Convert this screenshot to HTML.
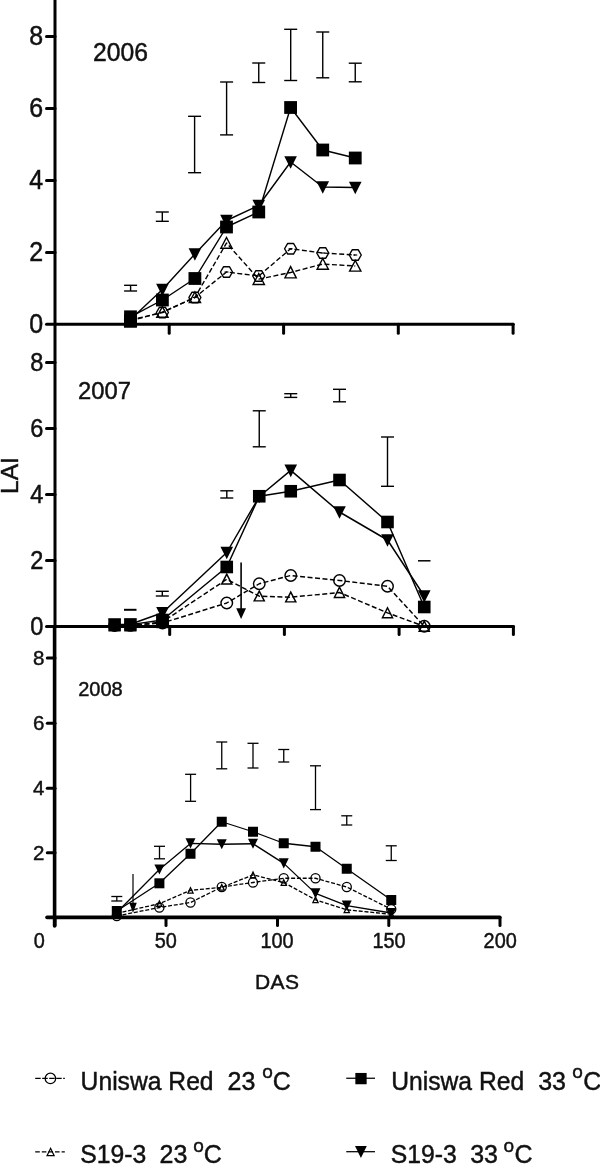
<!DOCTYPE html>
<html><head><meta charset="utf-8"><title>LAI vs DAS</title>
<style>html,body{margin:0;padding:0;background:#fff;}svg{display:block;}text{font-family:'Liberation Sans', Arial, Helvetica, sans-serif;fill:#111;stroke:#111;stroke-width:0.45px;}</style>
</head><body>
<svg width="600" height="1164" viewBox="0 0 600 1164">
<rect width="600" height="1164" fill="#fff"/>
<line x1="55" y1="0" x2="55" y2="627" stroke="#000" stroke-width="3.0" stroke-linecap="butt"/>
<line x1="54.6" y1="627" x2="54.6" y2="926" stroke="#000" stroke-width="3.6" stroke-linecap="round"/>
<line x1="46.5" y1="324.3" x2="513.2" y2="324.3" stroke="#000" stroke-width="3.0" stroke-linecap="round"/>
<line x1="46.5" y1="36.4" x2="55" y2="36.4" stroke="#000" stroke-width="3.0" stroke-linecap="round"/>
<line x1="46.5" y1="108.5" x2="55" y2="108.5" stroke="#000" stroke-width="3.0" stroke-linecap="round"/>
<line x1="46.5" y1="180.6" x2="55" y2="180.6" stroke="#000" stroke-width="3.0" stroke-linecap="round"/>
<line x1="46.5" y1="252.6" x2="55" y2="252.6" stroke="#000" stroke-width="3.0" stroke-linecap="round"/>
<text transform="translate(43.2,45.2) scale(1.0,1.1)" font-size="25" text-anchor="end" >8</text>
<text transform="translate(43.2,117.3) scale(1.0,1.1)" font-size="25" text-anchor="end" >6</text>
<text transform="translate(43.2,189.4) scale(1.0,1.1)" font-size="25" text-anchor="end" >4</text>
<text transform="translate(43.2,261.4) scale(1.0,1.1)" font-size="25" text-anchor="end" >2</text>
<text transform="translate(43.2,333.1) scale(1.0,1.1)" font-size="25" text-anchor="end" >0</text>
<line x1="169.2" y1="324.3" x2="169.2" y2="333.2" stroke="#000" stroke-width="3.0" stroke-linecap="round"/>
<line x1="283.6" y1="324.3" x2="283.6" y2="333.2" stroke="#000" stroke-width="3.0" stroke-linecap="round"/>
<line x1="398.3" y1="324.3" x2="398.3" y2="333.2" stroke="#000" stroke-width="3.0" stroke-linecap="round"/>
<line x1="513.1" y1="324.3" x2="513.1" y2="333.2" stroke="#000" stroke-width="3.0" stroke-linecap="round"/>
<text transform="translate(93,61) scale(1,1.04)" font-size="24.7" text-anchor="start" >2006</text>
<polyline points="130.5,320 162.4,312.5 194.9,297.5 226.5,272 258.75,276 290.6,248.75 322.75,253 355.25,255" fill="none" stroke="#000" stroke-width="1.4" stroke-linejoin="round" stroke-dasharray="5 2.5"/>
<polyline points="130.5,320.85 162.4,312.1 194.9,297.40000000000003 226.5,243.04999999999998 258.75,279.15000000000003 290.6,272.45000000000005 322.75,264.05000000000007 355.25,266.0" fill="none" stroke="#000" stroke-width="1.4" stroke-linejoin="round" stroke-dasharray="5 2.5"/>
<polyline points="130.5,316.8 162.4,300 194.9,278.5 226.5,227 258.75,212 290.6,107.5 322.75,150 355.25,158" fill="none" stroke="#000" stroke-width="1.4" stroke-linejoin="round"/>
<polyline points="130.5,319.5 162.4,289.5 194.9,254 226.5,220.5 258.75,205.5 290.6,162 322.75,187 355.25,187.5" fill="none" stroke="#000" stroke-width="1.4" stroke-linejoin="round"/>
<polygon points="124.47,320.00 127.61,314.70 133.39,314.70 136.53,320.00 133.39,325.30 127.61,325.30" fill="none" stroke="#000" stroke-width="1.4" stroke-linejoin="round"/>
<line x1="128.5" y1="320" x2="132.5" y2="320" stroke="#000" stroke-width="1.1199999999999999" stroke-linecap="butt"/>
<polygon points="156.37,312.50 159.51,307.20 165.29,307.20 168.43,312.50 165.29,317.80 159.51,317.80" fill="none" stroke="#000" stroke-width="1.4" stroke-linejoin="round"/>
<line x1="160.4" y1="312.5" x2="164.4" y2="312.5" stroke="#000" stroke-width="1.1199999999999999" stroke-linecap="butt"/>
<polygon points="188.87,297.50 192.01,292.20 197.79,292.20 200.93,297.50 197.79,302.80 192.01,302.80" fill="none" stroke="#000" stroke-width="1.4" stroke-linejoin="round"/>
<line x1="192.9" y1="297.5" x2="196.9" y2="297.5" stroke="#000" stroke-width="1.1199999999999999" stroke-linecap="butt"/>
<polygon points="220.47,272.00 223.61,266.70 229.39,266.70 232.53,272.00 229.39,277.30 223.61,277.30" fill="none" stroke="#000" stroke-width="1.4" stroke-linejoin="round"/>
<line x1="224.5" y1="272" x2="228.5" y2="272" stroke="#000" stroke-width="1.1199999999999999" stroke-linecap="butt"/>
<polygon points="252.72,276.00 255.86,270.70 261.64,270.70 264.78,276.00 261.64,281.30 255.86,281.30" fill="none" stroke="#000" stroke-width="1.4" stroke-linejoin="round"/>
<line x1="256.75" y1="276" x2="260.75" y2="276" stroke="#000" stroke-width="1.1199999999999999" stroke-linecap="butt"/>
<polygon points="284.57,248.75 287.71,243.45 293.49,243.45 296.63,248.75 293.49,254.05 287.71,254.05" fill="none" stroke="#000" stroke-width="1.4" stroke-linejoin="round"/>
<line x1="288.6" y1="248.75" x2="292.6" y2="248.75" stroke="#000" stroke-width="1.1199999999999999" stroke-linecap="butt"/>
<polygon points="316.72,253.00 319.86,247.70 325.64,247.70 328.78,253.00 325.64,258.30 319.86,258.30" fill="none" stroke="#000" stroke-width="1.4" stroke-linejoin="round"/>
<line x1="320.75" y1="253" x2="324.75" y2="253" stroke="#000" stroke-width="1.1199999999999999" stroke-linecap="butt"/>
<polygon points="349.22,255.00 352.36,249.70 358.14,249.70 361.28,255.00 358.14,260.30 352.36,260.30" fill="none" stroke="#000" stroke-width="1.4" stroke-linejoin="round"/>
<line x1="353.25" y1="255" x2="357.25" y2="255" stroke="#000" stroke-width="1.1199999999999999" stroke-linecap="butt"/>
<polygon points="124.84,326.20 136.16,326.20 130.5,315.14" fill="none" stroke="#000" stroke-width="1.4" stroke-linejoin="miter"/>
<polygon points="156.76,317.20 168.04,317.20 162.4,306.59" fill="none" stroke="#000" stroke-width="1.4" stroke-linejoin="miter"/>
<polygon points="189.26,302.50 200.54,302.50 194.9,291.89" fill="none" stroke="#000" stroke-width="1.4" stroke-linejoin="miter"/>
<polygon points="220.85,248.30 232.15,248.30 226.5,237.42" fill="none" stroke="#000" stroke-width="1.4" stroke-linejoin="miter"/>
<polygon points="253.09,284.50 264.41,284.50 258.75,273.44" fill="none" stroke="#000" stroke-width="1.4" stroke-linejoin="miter"/>
<polygon points="284.94,277.90 296.26,277.90 290.6,266.66" fill="none" stroke="#000" stroke-width="1.4" stroke-linejoin="miter"/>
<polygon points="317.10,269.30 328.40,269.30 322.75,258.42" fill="none" stroke="#000" stroke-width="1.4" stroke-linejoin="miter"/>
<polygon points="349.61,271.10 360.89,271.10 355.25,260.49" fill="none" stroke="#000" stroke-width="1.4" stroke-linejoin="miter"/>
<polygon points="124.2,313.7 136.8,313.7 130.5,326.3" fill="#000"/>
<polygon points="156.1,283.7 168.70000000000002,283.7 162.4,296.3" fill="#000"/>
<polygon points="188.6,248.2 201.20000000000002,248.2 194.9,260.8" fill="#000"/>
<polygon points="220.2,214.7 232.8,214.7 226.5,227.3" fill="#000"/>
<polygon points="252.45,199.7 265.05,199.7 258.75,212.3" fill="#000"/>
<polygon points="284.3,156.2 296.90000000000003,156.2 290.6,168.8" fill="#000"/>
<polygon points="316.45,181.2 329.05,181.2 322.75,193.8" fill="#000"/>
<polygon points="348.95,181.7 361.55,181.7 355.25,194.3" fill="#000"/>
<rect x="124.1" y="310.40000000000003" width="12.8" height="12.8" fill="#000"/>
<rect x="156.0" y="293.6" width="12.8" height="12.8" fill="#000"/>
<rect x="188.5" y="272.1" width="12.8" height="12.8" fill="#000"/>
<rect x="220.1" y="220.6" width="12.8" height="12.8" fill="#000"/>
<rect x="252.35" y="205.6" width="12.8" height="12.8" fill="#000"/>
<rect x="284.20000000000005" y="101.1" width="12.8" height="12.8" fill="#000"/>
<rect x="316.35" y="143.6" width="12.8" height="12.8" fill="#000"/>
<rect x="348.85" y="151.6" width="12.8" height="12.8" fill="#000"/>
<rect x="123.99999999999999" y="314.85" width="12.9" height="12.9" fill="#000"/>
<line x1="130.6" y1="285.3" x2="130.6" y2="291" stroke="#000" stroke-width="1.4" stroke-linecap="butt"/>
<line x1="124.1" y1="285.3" x2="137.1" y2="285.3" stroke="#000" stroke-width="1.4" stroke-linecap="butt"/>
<line x1="124.1" y1="291" x2="137.1" y2="291" stroke="#000" stroke-width="1.4" stroke-linecap="butt"/>
<line x1="162.3" y1="212" x2="162.3" y2="221.3" stroke="#000" stroke-width="1.4" stroke-linecap="butt"/>
<line x1="155.8" y1="212" x2="168.8" y2="212" stroke="#000" stroke-width="1.4" stroke-linecap="butt"/>
<line x1="155.8" y1="221.3" x2="168.8" y2="221.3" stroke="#000" stroke-width="1.4" stroke-linecap="butt"/>
<line x1="194.6" y1="116.3" x2="194.6" y2="172.7" stroke="#000" stroke-width="1.4" stroke-linecap="butt"/>
<line x1="188.1" y1="116.3" x2="201.1" y2="116.3" stroke="#000" stroke-width="1.4" stroke-linecap="butt"/>
<line x1="188.1" y1="172.7" x2="201.1" y2="172.7" stroke="#000" stroke-width="1.4" stroke-linecap="butt"/>
<line x1="226.6" y1="82" x2="226.6" y2="134.9" stroke="#000" stroke-width="1.4" stroke-linecap="butt"/>
<line x1="220.1" y1="82" x2="233.1" y2="82" stroke="#000" stroke-width="1.4" stroke-linecap="butt"/>
<line x1="220.1" y1="134.9" x2="233.1" y2="134.9" stroke="#000" stroke-width="1.4" stroke-linecap="butt"/>
<line x1="258.75" y1="63" x2="258.75" y2="82.5" stroke="#000" stroke-width="1.4" stroke-linecap="butt"/>
<line x1="252.25" y1="63" x2="265.25" y2="63" stroke="#000" stroke-width="1.4" stroke-linecap="butt"/>
<line x1="252.25" y1="82.5" x2="265.25" y2="82.5" stroke="#000" stroke-width="1.4" stroke-linecap="butt"/>
<line x1="290.7" y1="29.3" x2="290.7" y2="80.5" stroke="#000" stroke-width="1.4" stroke-linecap="butt"/>
<line x1="284.2" y1="29.3" x2="297.2" y2="29.3" stroke="#000" stroke-width="1.4" stroke-linecap="butt"/>
<line x1="284.2" y1="80.5" x2="297.2" y2="80.5" stroke="#000" stroke-width="1.4" stroke-linecap="butt"/>
<line x1="322.75" y1="32" x2="322.75" y2="77.8" stroke="#000" stroke-width="1.4" stroke-linecap="butt"/>
<line x1="316.25" y1="32" x2="329.25" y2="32" stroke="#000" stroke-width="1.4" stroke-linecap="butt"/>
<line x1="316.25" y1="77.8" x2="329.25" y2="77.8" stroke="#000" stroke-width="1.4" stroke-linecap="butt"/>
<line x1="355.25" y1="63.2" x2="355.25" y2="81.8" stroke="#000" stroke-width="1.4" stroke-linecap="butt"/>
<line x1="348.75" y1="63.2" x2="361.75" y2="63.2" stroke="#000" stroke-width="1.4" stroke-linecap="butt"/>
<line x1="348.75" y1="81.8" x2="361.75" y2="81.8" stroke="#000" stroke-width="1.4" stroke-linecap="butt"/>
<line x1="46.5" y1="626.5" x2="513.5" y2="626.5" stroke="#000" stroke-width="3.0" stroke-linecap="round"/>
<line x1="46.5" y1="362.4" x2="55" y2="362.4" stroke="#000" stroke-width="3.0" stroke-linecap="round"/>
<line x1="46.5" y1="428.4" x2="55" y2="428.4" stroke="#000" stroke-width="3.0" stroke-linecap="round"/>
<line x1="46.5" y1="494.4" x2="55" y2="494.4" stroke="#000" stroke-width="3.0" stroke-linecap="round"/>
<line x1="46.5" y1="560.4" x2="55" y2="560.4" stroke="#000" stroke-width="3.0" stroke-linecap="round"/>
<text transform="translate(43.4,370.9) scale(1.0,1.1)" font-size="23.6" text-anchor="end" >8</text>
<text transform="translate(43.4,436.9) scale(1.0,1.1)" font-size="23.6" text-anchor="end" >6</text>
<text transform="translate(43.4,502.9) scale(1.0,1.1)" font-size="23.6" text-anchor="end" >4</text>
<text transform="translate(43.4,568.9) scale(1.0,1.1)" font-size="23.6" text-anchor="end" >2</text>
<text transform="translate(43.4,635.0) scale(1.0,1.1)" font-size="23.6" text-anchor="end" >0</text>
<line x1="169.7" y1="626.5" x2="169.7" y2="634.5" stroke="#000" stroke-width="3.0" stroke-linecap="round"/>
<line x1="284.4" y1="626.5" x2="284.4" y2="634.5" stroke="#000" stroke-width="3.0" stroke-linecap="round"/>
<line x1="399.1" y1="626.5" x2="399.1" y2="634.5" stroke="#000" stroke-width="3.0" stroke-linecap="round"/>
<line x1="513.4" y1="626.5" x2="513.4" y2="634.5" stroke="#000" stroke-width="3.0" stroke-linecap="round"/>
<text x="78" y="398.6" font-size="23.8" text-anchor="start" >2007</text>
<polyline points="114.6,625.5 130.4,625.3 162.5,623 226.75,603 259.25,583.75 290.75,575.5 339.5,580.5 387.5,586.25 424.25,626.25" fill="none" stroke="#000" stroke-width="1.45" stroke-linejoin="round" stroke-dasharray="5 2.5"/>
<polyline points="114.6,625.85 130.4,625.85 162.5,621.85 226.75,579.3000000000001 259.25,596.2 290.75,597.2 339.5,592.5 387.5,612.9 424.25,626.35" fill="none" stroke="#000" stroke-width="1.45" stroke-linejoin="round" stroke-dasharray="5 2.5"/>
<polyline points="114.6,624.6 130.4,624.6 162.5,620 226.75,567 259.25,496.25 290.75,491.25 339.5,480 387.5,522 424.25,607" fill="none" stroke="#000" stroke-width="1.45" stroke-linejoin="round"/>
<polyline points="114.6,624.6 130.4,624.3 162.5,612.75 226.75,552.5 259.25,496.5 290.75,470.4 339.5,512 387.5,540 424.25,596" fill="none" stroke="#000" stroke-width="1.45" stroke-linejoin="round"/>
<circle cx="114.6" cy="625.5" r="5.75" fill="none" stroke="#000" stroke-width="1.45"/>
<circle cx="130.4" cy="625.3" r="5.75" fill="none" stroke="#000" stroke-width="1.45"/>
<circle cx="162.5" cy="623" r="5.75" fill="none" stroke="#000" stroke-width="1.45"/>
<circle cx="226.75" cy="603" r="5.75" fill="none" stroke="#000" stroke-width="1.45"/>
<circle cx="259.25" cy="583.75" r="5.75" fill="none" stroke="#000" stroke-width="1.45"/>
<circle cx="290.75" cy="575.5" r="5.75" fill="none" stroke="#000" stroke-width="1.45"/>
<circle cx="339.5" cy="580.5" r="5.75" fill="none" stroke="#000" stroke-width="1.45"/>
<circle cx="387.5" cy="586.25" r="5.75" fill="none" stroke="#000" stroke-width="1.45"/>
<circle cx="424.25" cy="626.25" r="5.75" fill="none" stroke="#000" stroke-width="1.45"/>
<polygon points="109.53,630.67 119.67,630.67 114.6,620.70" fill="none" stroke="#000" stroke-width="1.45" stroke-linejoin="miter"/>
<polygon points="125.33,630.67 135.47,630.67 130.4,620.70" fill="none" stroke="#000" stroke-width="1.45" stroke-linejoin="miter"/>
<polygon points="157.43,626.67 167.57,626.67 162.5,616.70" fill="none" stroke="#000" stroke-width="1.45" stroke-linejoin="miter"/>
<polygon points="221.69,584.07 231.81,584.07 226.75,574.19" fill="none" stroke="#000" stroke-width="1.45" stroke-linejoin="miter"/>
<polygon points="254.20,600.88 264.30,600.88 259.25,591.17" fill="none" stroke="#000" stroke-width="1.45" stroke-linejoin="miter"/>
<polygon points="285.70,601.88 295.80,601.88 290.75,592.17" fill="none" stroke="#000" stroke-width="1.45" stroke-linejoin="miter"/>
<polygon points="334.42,597.47 344.58,597.47 339.5,587.23" fill="none" stroke="#000" stroke-width="1.45" stroke-linejoin="miter"/>
<polygon points="382.44,617.67 392.56,617.67 387.5,607.79" fill="none" stroke="#000" stroke-width="1.45" stroke-linejoin="miter"/>
<polygon points="419.18,631.17 429.32,631.17 424.25,621.20" fill="none" stroke="#000" stroke-width="1.45" stroke-linejoin="miter"/>
<polygon points="108.3,618.8000000000001 120.89999999999999,618.8000000000001 114.6,631.4" fill="#000"/>
<polygon points="124.10000000000001,618.5 136.70000000000002,618.5 130.4,631.0999999999999" fill="#000"/>
<polygon points="156.2,606.95 168.8,606.95 162.5,619.55" fill="#000"/>
<polygon points="220.45,546.7 233.05,546.7 226.75,559.3" fill="#000"/>
<polygon points="252.95,490.7 265.55,490.7 259.25,503.3" fill="#000"/>
<polygon points="284.45,464.59999999999997 297.05,464.59999999999997 290.75,477.2" fill="#000"/>
<polygon points="333.2,506.2 345.8,506.2 339.5,518.8" fill="#000"/>
<polygon points="381.2,534.2 393.8,534.2 387.5,546.8" fill="#000"/>
<polygon points="417.95,590.2 430.55,590.2 424.25,602.8" fill="#000"/>
<rect x="108.3" y="618.3000000000001" width="12.6" height="12.6" fill="#000"/>
<rect x="124.10000000000001" y="618.3000000000001" width="12.6" height="12.6" fill="#000"/>
<rect x="156.2" y="613.7" width="12.6" height="12.6" fill="#000"/>
<rect x="220.45" y="560.7" width="12.6" height="12.6" fill="#000"/>
<rect x="252.95" y="489.95" width="12.6" height="12.6" fill="#000"/>
<rect x="284.45" y="484.95" width="12.6" height="12.6" fill="#000"/>
<rect x="333.2" y="473.7" width="12.6" height="12.6" fill="#000"/>
<rect x="381.2" y="515.7" width="12.6" height="12.6" fill="#000"/>
<rect x="417.95" y="600.7" width="12.6" height="12.6" fill="#000"/>
<rect x="156.3" y="615.8" width="12.4" height="12.4" fill="#000"/>
<line x1="162.3" y1="591.3" x2="162.3" y2="596" stroke="#000" stroke-width="1.4" stroke-linecap="butt"/>
<line x1="155.8" y1="591.3" x2="168.8" y2="591.3" stroke="#000" stroke-width="1.4" stroke-linecap="butt"/>
<line x1="155.8" y1="596" x2="168.8" y2="596" stroke="#000" stroke-width="1.4" stroke-linecap="butt"/>
<line x1="226.8" y1="490.8" x2="226.8" y2="498" stroke="#000" stroke-width="1.4" stroke-linecap="butt"/>
<line x1="220.3" y1="490.8" x2="233.3" y2="490.8" stroke="#000" stroke-width="1.4" stroke-linecap="butt"/>
<line x1="220.3" y1="498" x2="233.3" y2="498" stroke="#000" stroke-width="1.4" stroke-linecap="butt"/>
<line x1="259.25" y1="410.8" x2="259.25" y2="446.8" stroke="#000" stroke-width="1.4" stroke-linecap="butt"/>
<line x1="252.75" y1="410.8" x2="265.75" y2="410.8" stroke="#000" stroke-width="1.4" stroke-linecap="butt"/>
<line x1="252.75" y1="446.8" x2="265.75" y2="446.8" stroke="#000" stroke-width="1.4" stroke-linecap="butt"/>
<line x1="290.75" y1="393.7" x2="290.75" y2="397.4" stroke="#000" stroke-width="1.4" stroke-linecap="butt"/>
<line x1="284.25" y1="393.7" x2="297.25" y2="393.7" stroke="#000" stroke-width="1.4" stroke-linecap="butt"/>
<line x1="284.25" y1="397.4" x2="297.25" y2="397.4" stroke="#000" stroke-width="1.4" stroke-linecap="butt"/>
<line x1="339.5" y1="389.3" x2="339.5" y2="401.8" stroke="#000" stroke-width="1.4" stroke-linecap="butt"/>
<line x1="333.0" y1="389.3" x2="346.0" y2="389.3" stroke="#000" stroke-width="1.4" stroke-linecap="butt"/>
<line x1="333.0" y1="401.8" x2="346.0" y2="401.8" stroke="#000" stroke-width="1.4" stroke-linecap="butt"/>
<line x1="387.5" y1="437" x2="387.5" y2="486.3" stroke="#000" stroke-width="1.4" stroke-linecap="butt"/>
<line x1="381.0" y1="437" x2="394.0" y2="437" stroke="#000" stroke-width="1.4" stroke-linecap="butt"/>
<line x1="381.0" y1="486.3" x2="394.0" y2="486.3" stroke="#000" stroke-width="1.4" stroke-linecap="butt"/>
<line x1="124" y1="609.8" x2="136.5" y2="609.8" stroke="#000" stroke-width="2" stroke-linecap="butt"/>
<line x1="418" y1="560.8" x2="430.5" y2="560.8" stroke="#000" stroke-width="1.5" stroke-linecap="butt"/>
<line x1="241.1" y1="562.5" x2="241.1" y2="611" stroke="#000" stroke-width="1.6" stroke-linecap="butt"/>
<polygon points="236.2,608.2 246.0,608.2 241.1,619.0" fill="#000"/>
<line x1="47" y1="917.4" x2="499.8" y2="917.4" stroke="#000" stroke-width="3.6" stroke-linecap="round"/>
<line x1="47.3" y1="658" x2="55" y2="658" stroke="#000" stroke-width="3.0" stroke-linecap="round"/>
<line x1="47.3" y1="723.2" x2="55" y2="723.2" stroke="#000" stroke-width="3.0" stroke-linecap="round"/>
<line x1="47.3" y1="788.2" x2="55" y2="788.2" stroke="#000" stroke-width="3.0" stroke-linecap="round"/>
<line x1="47.3" y1="852.8" x2="55" y2="852.8" stroke="#000" stroke-width="3.0" stroke-linecap="round"/>
<text x="44.5" y="665.2" font-size="20.5" text-anchor="end" >8</text>
<text x="44.5" y="730.4000000000001" font-size="20.5" text-anchor="end" >6</text>
<text x="44.5" y="795.4000000000001" font-size="20.5" text-anchor="end" >4</text>
<text x="44.5" y="860.0" font-size="20.5" text-anchor="end" >2</text>
<line x1="55" y1="917.4" x2="55" y2="925.5" stroke="#000" stroke-width="3.0" stroke-linecap="round"/>
<line x1="166" y1="917.4" x2="166" y2="925.5" stroke="#000" stroke-width="3.0" stroke-linecap="round"/>
<line x1="277.5" y1="917.4" x2="277.5" y2="925.5" stroke="#000" stroke-width="3.0" stroke-linecap="round"/>
<line x1="388.8" y1="917.4" x2="388.8" y2="925.5" stroke="#000" stroke-width="3.0" stroke-linecap="round"/>
<line x1="500" y1="917.4" x2="500" y2="925.5" stroke="#000" stroke-width="3.0" stroke-linecap="round"/>
<text transform="translate(39.3,948) scale(0.97,1.05)" font-size="20.5" text-anchor="middle" >0</text>
<text transform="translate(165.7,948) scale(0.97,1.05)" font-size="20.5" text-anchor="middle" >50</text>
<text transform="translate(277,948) scale(0.97,1.05)" font-size="20.5" text-anchor="middle" >100</text>
<text transform="translate(389,948) scale(0.97,1.05)" font-size="20.5" text-anchor="middle" >150</text>
<text transform="translate(500.2,948) scale(0.97,1.05)" font-size="20.5" text-anchor="middle" >200</text>
<text x="78.2" y="696" font-size="20" text-anchor="start" >2008</text>
<text x="255" y="988.6" font-size="21" text-anchor="start" letter-spacing="0.4">DAS</text>
<polyline points="116.8,916 159.4,907.5 190.5,902.5 221.75,887 253,882.5 283.75,878.25 315.5,878.25 346.75,887 391.25,909.25" fill="none" stroke="#000" stroke-width="1.3" stroke-linejoin="round" stroke-dasharray="4 1.8"/>
<polyline points="116.8,913.4 159.4,903.65 190.5,890.35 221.75,887.35 253,874.9 283.75,882.5 315.5,899.8 346.75,909.8 391.25,914.3" fill="none" stroke="#000" stroke-width="1.3" stroke-linejoin="round" stroke-dasharray="4 1.8"/>
<polyline points="116.8,911 159.4,883.3 190.5,853.75 221.75,821.75 253,831.75 283.75,843.25 315.5,846.75 346.75,868.75 391.25,900" fill="none" stroke="#000" stroke-width="1.3" stroke-linejoin="round"/>
<polyline points="116.8,912.5 159.4,869.5 190.5,843.4 221.75,844.25 253,843.75 283.75,863.4 315.5,893.4 346.75,905.6 391.25,913" fill="none" stroke="#000" stroke-width="1.3" stroke-linejoin="round"/>
<circle cx="116.8" cy="916" r="4.55" fill="none" stroke="#000" stroke-width="1.3"/>
<circle cx="159.4" cy="907.5" r="4.55" fill="none" stroke="#000" stroke-width="1.3"/>
<circle cx="190.5" cy="902.5" r="4.55" fill="none" stroke="#000" stroke-width="1.3"/>
<circle cx="221.75" cy="887" r="4.55" fill="none" stroke="#000" stroke-width="1.3"/>
<circle cx="253" cy="882.5" r="4.55" fill="none" stroke="#000" stroke-width="1.3"/>
<circle cx="283.75" cy="878.25" r="4.55" fill="none" stroke="#000" stroke-width="1.3"/>
<circle cx="315.5" cy="878.25" r="4.55" fill="none" stroke="#000" stroke-width="1.3"/>
<circle cx="346.75" cy="887" r="4.55" fill="none" stroke="#000" stroke-width="1.3"/>
<circle cx="391.25" cy="909.25" r="4.55" fill="none" stroke="#000" stroke-width="1.3"/>
<polygon points="114.22,916.25 119.38,916.25 116.8,910.65" fill="none" stroke="#000" stroke-width="1.3" stroke-linejoin="miter"/>
<polygon points="156.85,906.25 161.95,906.25 159.4,901.07" fill="none" stroke="#000" stroke-width="1.3" stroke-linejoin="miter"/>
<polygon points="187.93,893.05 193.07,893.05 190.5,887.70" fill="none" stroke="#000" stroke-width="1.3" stroke-linejoin="miter"/>
<polygon points="219.17,890.15 224.33,890.15 221.75,884.63" fill="none" stroke="#000" stroke-width="1.3" stroke-linejoin="miter"/>
<polygon points="250.42,877.75 255.58,877.75 253,872.15" fill="none" stroke="#000" stroke-width="1.3" stroke-linejoin="miter"/>
<polygon points="281.17,885.35 286.33,885.35 283.75,879.75" fill="none" stroke="#000" stroke-width="1.3" stroke-linejoin="miter"/>
<polygon points="312.93,902.55 318.07,902.55 315.5,897.12" fill="none" stroke="#000" stroke-width="1.3" stroke-linejoin="miter"/>
<polygon points="344.18,912.55 349.32,912.55 346.75,907.12" fill="none" stroke="#000" stroke-width="1.3" stroke-linejoin="miter"/>
<polygon points="388.68,917.05 393.82,917.05 391.25,911.62" fill="none" stroke="#000" stroke-width="1.3" stroke-linejoin="miter"/>
<polygon points="111.8,907.4 121.8,907.4 116.8,917.6" fill="#000"/>
<polygon points="154.4,864.4 164.4,864.4 159.4,874.6" fill="#000"/>
<polygon points="185.5,838.3 195.5,838.3 190.5,848.5" fill="#000"/>
<polygon points="216.75,839.15 226.75,839.15 221.75,849.35" fill="#000"/>
<polygon points="248.0,838.65 258.0,838.65 253,848.85" fill="#000"/>
<polygon points="278.75,858.3 288.75,858.3 283.75,868.5" fill="#000"/>
<polygon points="310.5,888.3 320.5,888.3 315.5,898.5" fill="#000"/>
<polygon points="341.75,900.5 351.75,900.5 346.75,910.7" fill="#000"/>
<polygon points="386.25,907.9 396.25,907.9 391.25,918.1" fill="#000"/>
<rect x="111.8" y="906.0" width="10" height="10" fill="#000"/>
<rect x="154.4" y="878.3" width="10" height="10" fill="#000"/>
<rect x="185.5" y="848.75" width="10" height="10" fill="#000"/>
<rect x="216.75" y="816.75" width="10" height="10" fill="#000"/>
<rect x="248.0" y="826.75" width="10" height="10" fill="#000"/>
<rect x="278.75" y="838.25" width="10" height="10" fill="#000"/>
<rect x="310.5" y="841.75" width="10" height="10" fill="#000"/>
<rect x="341.75" y="863.75" width="10" height="10" fill="#000"/>
<rect x="386.25" y="895.0" width="10" height="10" fill="#000"/>
<line x1="116.8" y1="896.5" x2="116.8" y2="901" stroke="#000" stroke-width="1.3" stroke-linecap="butt"/>
<line x1="111.3" y1="896.5" x2="122.3" y2="896.5" stroke="#000" stroke-width="1.3" stroke-linecap="butt"/>
<line x1="111.3" y1="901" x2="122.3" y2="901" stroke="#000" stroke-width="1.3" stroke-linecap="butt"/>
<line x1="159.5" y1="846.3" x2="159.5" y2="858.8" stroke="#000" stroke-width="1.3" stroke-linecap="butt"/>
<line x1="154.0" y1="846.3" x2="165.0" y2="846.3" stroke="#000" stroke-width="1.3" stroke-linecap="butt"/>
<line x1="154.0" y1="858.8" x2="165.0" y2="858.8" stroke="#000" stroke-width="1.3" stroke-linecap="butt"/>
<line x1="190.6" y1="774.3" x2="190.6" y2="801.3" stroke="#000" stroke-width="1.3" stroke-linecap="butt"/>
<line x1="185.1" y1="774.3" x2="196.1" y2="774.3" stroke="#000" stroke-width="1.3" stroke-linecap="butt"/>
<line x1="185.1" y1="801.3" x2="196.1" y2="801.3" stroke="#000" stroke-width="1.3" stroke-linecap="butt"/>
<line x1="221.75" y1="742" x2="221.75" y2="768.8" stroke="#000" stroke-width="1.3" stroke-linecap="butt"/>
<line x1="216.25" y1="742" x2="227.25" y2="742" stroke="#000" stroke-width="1.3" stroke-linecap="butt"/>
<line x1="216.25" y1="768.8" x2="227.25" y2="768.8" stroke="#000" stroke-width="1.3" stroke-linecap="butt"/>
<line x1="253" y1="743.3" x2="253" y2="768" stroke="#000" stroke-width="1.3" stroke-linecap="butt"/>
<line x1="247.5" y1="743.3" x2="258.5" y2="743.3" stroke="#000" stroke-width="1.3" stroke-linecap="butt"/>
<line x1="247.5" y1="768" x2="258.5" y2="768" stroke="#000" stroke-width="1.3" stroke-linecap="butt"/>
<line x1="283.75" y1="749.5" x2="283.75" y2="762" stroke="#000" stroke-width="1.3" stroke-linecap="butt"/>
<line x1="278.25" y1="749.5" x2="289.25" y2="749.5" stroke="#000" stroke-width="1.3" stroke-linecap="butt"/>
<line x1="278.25" y1="762" x2="289.25" y2="762" stroke="#000" stroke-width="1.3" stroke-linecap="butt"/>
<line x1="315.5" y1="765.8" x2="315.5" y2="809.6" stroke="#000" stroke-width="1.3" stroke-linecap="butt"/>
<line x1="310.0" y1="765.8" x2="321.0" y2="765.8" stroke="#000" stroke-width="1.3" stroke-linecap="butt"/>
<line x1="310.0" y1="809.6" x2="321.0" y2="809.6" stroke="#000" stroke-width="1.3" stroke-linecap="butt"/>
<line x1="346.75" y1="815.8" x2="346.75" y2="825" stroke="#000" stroke-width="1.3" stroke-linecap="butt"/>
<line x1="341.25" y1="815.8" x2="352.25" y2="815.8" stroke="#000" stroke-width="1.3" stroke-linecap="butt"/>
<line x1="341.25" y1="825" x2="352.25" y2="825" stroke="#000" stroke-width="1.3" stroke-linecap="butt"/>
<line x1="391.25" y1="845.8" x2="391.25" y2="860.5" stroke="#000" stroke-width="1.3" stroke-linecap="butt"/>
<line x1="385.75" y1="845.8" x2="396.75" y2="845.8" stroke="#000" stroke-width="1.3" stroke-linecap="butt"/>
<line x1="385.75" y1="860.5" x2="396.75" y2="860.5" stroke="#000" stroke-width="1.3" stroke-linecap="butt"/>
<line x1="133" y1="874" x2="133" y2="905" stroke="#000" stroke-width="1.2" stroke-linecap="butt"/>
<polygon points="129.2,902.8 136.8,902.8 133,912.8" fill="#000"/>
<text transform="translate(17.9,494) rotate(-90)" font-size="24.5">LAI</text>
<line x1="35.2" y1="1078.3" x2="64.8" y2="1078.3" stroke="#000" stroke-width="1.25" stroke-linecap="butt" stroke-dasharray="5.5 1.5"/>
<circle cx="50.4" cy="1078.4" r="5.25" fill="none" stroke="#000" stroke-width="1.25"/>
<text x="80.6" y="1089.7" font-size="25" textLength="133" lengthAdjust="spacingAndGlyphs">Uniswa Red</text>
<text x="227.5" y="1089.7" font-size="25">23</text>
<text x="262.2" y="1078.4" font-size="19">o</text>
<text x="272.75" y="1089.7" font-size="25">C</text>
<line x1="35.2" y1="1151.9" x2="64.8" y2="1151.9" stroke="#000" stroke-width="1.15" stroke-linecap="butt" stroke-dasharray="4.6 2"/>
<polygon points="47.05,1155.70 54.15,1155.70 50.6,1148.29" fill="none" stroke="#000" stroke-width="1.2" stroke-linejoin="miter"/>
<text x="80.2" y="1163.2" font-size="25" textLength="66" lengthAdjust="spacingAndGlyphs">S19-3</text>
<text x="159.5" y="1163.2" font-size="25">23</text>
<text x="193.2" y="1151.9" font-size="19">o</text>
<text x="203.75" y="1163.2" font-size="25">C</text>
<line x1="346.25" y1="1078.25" x2="375" y2="1078.25" stroke="#000" stroke-width="1.25" stroke-linecap="butt"/>
<rect x="355.35" y="1072.9499999999998" width="11.3" height="11.3" fill="#000"/>
<text x="391.2" y="1089.7" font-size="25" textLength="133" lengthAdjust="spacingAndGlyphs">Uniswa Red</text>
<text x="538.2" y="1089.7" font-size="25">33</text>
<text x="572.2" y="1078.4" font-size="19">o</text>
<text x="583.2" y="1089.7" font-size="25">C</text>
<line x1="346.25" y1="1151.7" x2="375" y2="1151.7" stroke="#000" stroke-width="1.25" stroke-linecap="butt"/>
<polygon points="355.025,1146.1 366.775,1146.1 360.9,1157.9" fill="#000"/>
<text x="390.7" y="1163.2" font-size="25" textLength="66" lengthAdjust="spacingAndGlyphs">S19-3</text>
<text x="470.2" y="1163.2" font-size="25">33</text>
<text x="503.6" y="1151.9" font-size="19">o</text>
<text x="514.4" y="1163.2" font-size="25">C</text>
</svg></body></html>
